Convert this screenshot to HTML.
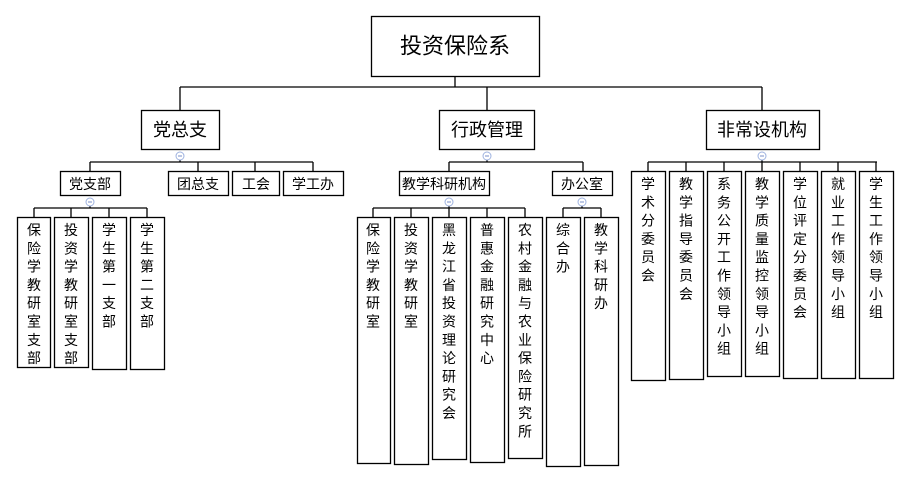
<!DOCTYPE html>
<html><head><meta charset="utf-8"><style>
html,body{margin:0;padding:0;background:#fff;}
svg{display:block;}
text{font-family:"Liberation Sans","Noto Sans CJK SC","WenQuanYi Zen Hei",sans-serif;fill:#000;}
</style></head><body>
<svg width="910" height="483" viewBox="0 0 910 483" xmlns="http://www.w3.org/2000/svg">
<g stroke="#000" stroke-width="1.3" fill="none">
<!-- root -->
<rect x="371.5" y="16.5" width="168" height="60" fill="#fff"/>
<path d="M455 76V87M180 87H762M180 87V110M487 87V110M762 87V110"/>
<!-- L1 -->
<rect x="141.5" y="110.5" width="78" height="39"/>
<rect x="439.5" y="110.5" width="95" height="39"/>
<rect x="706.5" y="110.5" width="113" height="39"/>
<!-- 党总支 children -->
<path d="M180 160V162M90 162H313M90 162V171M198 162V171M255 162V171M313 162V171"/>
<rect x="60.5" y="171.5" width="60" height="24"/>
<rect x="168.5" y="171.5" width="60" height="24"/>
<rect x="232.5" y="171.5" width="47" height="24"/>
<rect x="283.5" y="171.5" width="60" height="24"/>
<!-- 党支部 children -->
<path d="M90 206V208M34 208H147M34 208V217M71 208V217M109 208V217M147 208V217"/>
<rect x="17.5" y="217.5" width="33" height="150"/>
<rect x="54.5" y="217.5" width="34" height="150"/>
<rect x="92.5" y="217.5" width="34" height="152"/>
<rect x="130.5" y="217.5" width="34" height="152"/>
<!-- 行政管理 children -->
<path d="M487 160V162M449 162H583M449 162V171M583 162V171"/>
<rect x="399.5" y="171.5" width="90" height="24"/>
<rect x="552.5" y="171.5" width="60" height="24"/>
<path d="M449 206V208M373 208H525M373 208V217M411 208V217M449 208V217M487 208V217M525 208V217"/>
<rect x="357.5" y="217.5" width="33" height="246"/>
<rect x="394.5" y="217.5" width="34" height="247"/>
<rect x="432.5" y="217.5" width="34" height="242"/>
<rect x="470.5" y="217.5" width="34" height="245"/>
<rect x="508.5" y="217.5" width="34" height="241"/>
<path d="M582 206V208M563 208H601M563 208V217M601 208V217"/>
<rect x="546.5" y="217.5" width="34" height="249"/>
<rect x="584.5" y="217.5" width="34" height="248"/>
<!-- 非常设机构 children -->
<path d="M762 160V162M648 162H877M648 162V171M686 162V171M724 162V171M762 162V171M800 162V171M838 162V171M876 162V171"/>
<rect x="631.5" y="171.5" width="34" height="209"/>
<rect x="669.5" y="171.5" width="34" height="208"/>
<rect x="707.5" y="171.5" width="34" height="205"/>
<rect x="745.5" y="171.5" width="34" height="205"/>
<rect x="783.5" y="171.5" width="34" height="207"/>
<rect x="821.5" y="171.5" width="34" height="207"/>
<rect x="859.5" y="171.5" width="34" height="207"/>
</g>
<!-- collapse circles -->
<g stroke="#9fb3e0" stroke-width="1" fill="#fff">
<circle cx="180" cy="156" r="4"/><circle cx="487" cy="156" r="4"/><circle cx="762" cy="156" r="4"/>
<circle cx="90" cy="202" r="4"/><circle cx="449" cy="202" r="4"/><circle cx="582" cy="202" r="4"/>
<path d="M178 156H182M485 156H489M760 156H764M88 202H92M447 202H451M580 202H584" stroke="#7a8fc8"/>
</g>
<g text-anchor="middle" dominant-baseline="central">
<text x="455" y="46" font-size="22">投资保险系</text>
<text x="180" y="130" font-size="18">党总支</text>
<text x="487" y="130" font-size="18">行政管理</text>
<text x="762" y="130" font-size="18">非常设机构</text>
<g font-size="14">
<text x="90" y="184">党支部</text>
<text x="198" y="184">团总支</text>
<text x="256" y="184">工会</text>
<text x="313" y="184">学工办</text>
<text x="444" y="184">教学科研机构</text>
<text x="582" y="184">办公室</text>
</g>
</g>
<g text-anchor="middle" dominant-baseline="central" font-size="14">
<!-- 党支部 kids, start 230 step 18.3 -->
<text x="34" y="230">保</text><text x="34" y="248.3">险</text><text x="34" y="266.6">学</text><text x="34" y="284.9">教</text><text x="34" y="303.2">研</text><text x="34" y="321.5">室</text><text x="34" y="339.8">支</text><text x="34" y="358.1">部</text>
<text x="71" y="230">投</text><text x="71" y="248.3">资</text><text x="71" y="266.6">学</text><text x="71" y="284.9">教</text><text x="71" y="303.2">研</text><text x="71" y="321.5">室</text><text x="71" y="339.8">支</text><text x="71" y="358.1">部</text>
<text x="109" y="230">学</text><text x="109" y="248.3">生</text><text x="109" y="266.6">第</text><text x="109" y="284.9">一</text><text x="109" y="303.2">支</text><text x="109" y="321.5">部</text>
<text x="147" y="230">学</text><text x="147" y="248.3">生</text><text x="147" y="266.6">第</text><text x="147" y="284.9">二</text><text x="147" y="303.2">支</text><text x="147" y="321.5">部</text>
<!-- 教学科研 kids -->
<text x="373" y="230">保</text><text x="373" y="248.3">险</text><text x="373" y="266.6">学</text><text x="373" y="284.9">教</text><text x="373" y="303.2">研</text><text x="373" y="321.5">室</text>
<text x="411" y="230">投</text><text x="411" y="248.3">资</text><text x="411" y="266.6">学</text><text x="411" y="284.9">教</text><text x="411" y="303.2">研</text><text x="411" y="321.5">室</text>
<text x="449" y="230">黑</text><text x="449" y="248.3">龙</text><text x="449" y="266.6">江</text><text x="449" y="284.9">省</text><text x="449" y="303.2">投</text><text x="449" y="321.5">资</text><text x="449" y="339.8">理</text><text x="449" y="358.1">论</text><text x="449" y="376.4">研</text><text x="449" y="394.7">究</text><text x="449" y="413">会</text>
<text x="487" y="230">普</text><text x="487" y="248.3">惠</text><text x="487" y="266.6">金</text><text x="487" y="284.9">融</text><text x="487" y="303.2">研</text><text x="487" y="321.5">究</text><text x="487" y="339.8">中</text><text x="487" y="358.1">心</text>
<text x="525" y="230">农</text><text x="525" y="248.3">村</text><text x="525" y="266.6">金</text><text x="525" y="284.9">融</text><text x="525" y="303.2">与</text><text x="525" y="321.5">农</text><text x="525" y="339.8">业</text><text x="525" y="358.1">保</text><text x="525" y="376.4">险</text><text x="525" y="394.7">研</text><text x="525" y="413">究</text><text x="525" y="431.3">所</text>
<text x="563" y="230">综</text><text x="563" y="248.3">合</text><text x="563" y="266.6">办</text>
<text x="601" y="230">教</text><text x="601" y="248.3">学</text><text x="601" y="266.6">科</text><text x="601" y="284.9">研</text><text x="601" y="303.2">办</text>
<!-- 非常设 kids start 184 -->
<text x="648" y="184">学</text><text x="648" y="202.3">术</text><text x="648" y="220.6">分</text><text x="648" y="238.9">委</text><text x="648" y="257.2">员</text><text x="648" y="275.5">会</text>
<text x="686" y="184">教</text><text x="686" y="202.3">学</text><text x="686" y="220.6">指</text><text x="686" y="238.9">导</text><text x="686" y="257.2">委</text><text x="686" y="275.5">员</text><text x="686" y="293.8">会</text>
<text x="724" y="184">系</text><text x="724" y="202.3">务</text><text x="724" y="220.6">公</text><text x="724" y="238.9">开</text><text x="724" y="257.2">工</text><text x="724" y="275.5">作</text><text x="724" y="293.8">领</text><text x="724" y="312.1">导</text><text x="724" y="330.4">小</text><text x="724" y="348.7">组</text>
<text x="762" y="184">教</text><text x="762" y="202.3">学</text><text x="762" y="220.6">质</text><text x="762" y="238.9">量</text><text x="762" y="257.2">监</text><text x="762" y="275.5">控</text><text x="762" y="293.8">领</text><text x="762" y="312.1">导</text><text x="762" y="330.4">小</text><text x="762" y="348.7">组</text>
<text x="800" y="184">学</text><text x="800" y="202.3">位</text><text x="800" y="220.6">评</text><text x="800" y="238.9">定</text><text x="800" y="257.2">分</text><text x="800" y="275.5">委</text><text x="800" y="293.8">员</text><text x="800" y="312.1">会</text>
<text x="838" y="184">就</text><text x="838" y="202.3">业</text><text x="838" y="220.6">工</text><text x="838" y="238.9">作</text><text x="838" y="257.2">领</text><text x="838" y="275.5">导</text><text x="838" y="293.8">小</text><text x="838" y="312.1">组</text>
<text x="876" y="184">学</text><text x="876" y="202.3">生</text><text x="876" y="220.6">工</text><text x="876" y="238.9">作</text><text x="876" y="257.2">领</text><text x="876" y="275.5">导</text><text x="876" y="293.8">小</text><text x="876" y="312.1">组</text>
</g>
</svg>
</body></html>
